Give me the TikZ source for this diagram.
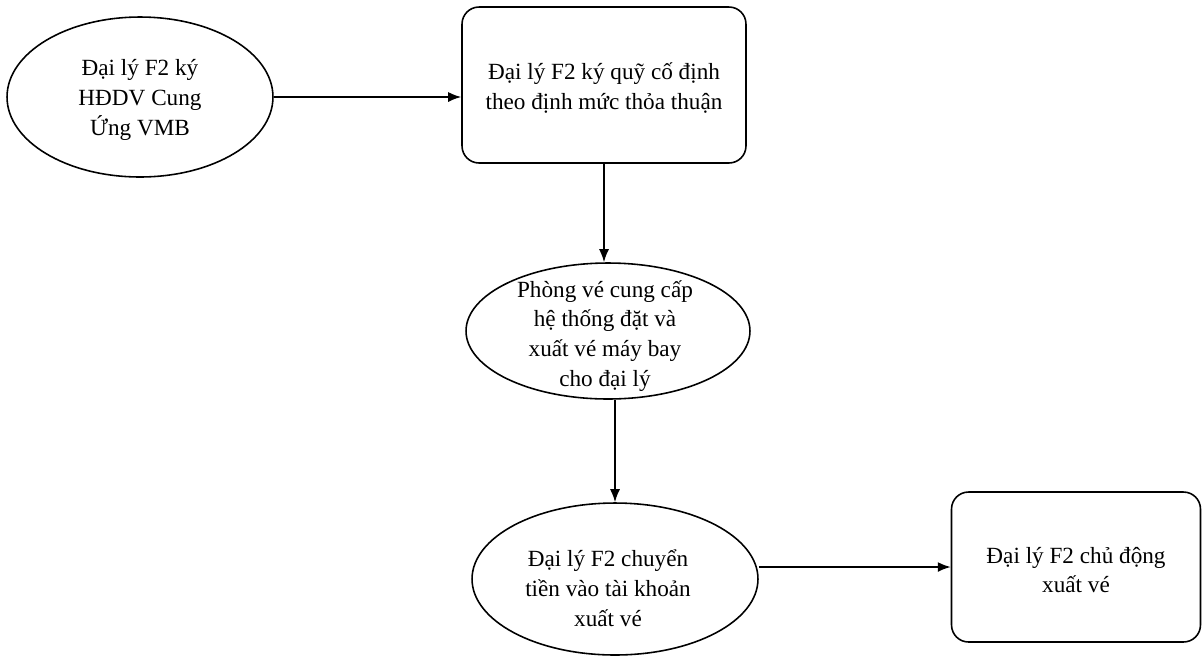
\documentclass[tikz,border=0pt]{standalone}
\usepackage{fontspec}
\setmainfont{Liberation Serif}
\usetikzlibrary{shapes.geometric,arrows.meta}
\begin{document}
\begin{tikzpicture}[x=0.02cm,y=-0.02cm,
  line width=0.9pt,
  oval/.style={draw, ellipse, inner sep=0pt},
  rbox/.style={draw, rectangle, rounded corners=0.34cm, inner sep=0pt},
  txt/.style={align=center, inner sep=0pt, font=\fontsize{13.2}{17}\selectfont},
  arr/.style={-{Latex[length=2.6mm,width=2mm]}}]
  \useasboundingbox (0,0) rectangle (1203,657);

  % shapes
  \node[oval, minimum width=5.32cm, minimum height=3.2cm] (e1) at (140,97) {};
  \node[rbox, minimum width=5.68cm, minimum height=3.12cm] (b1) at (604,85) {};
  \node[oval, minimum width=5.68cm, minimum height=2.72cm] (e2) at (608,331) {};
  \node[oval, minimum width=5.72cm, minimum height=3.04cm] (e3) at (615,579) {};
  \node[rbox, minimum width=4.98cm, minimum height=3.0cm] (b2) at (1076,567) {};

  % labels
  \node[txt] (t1) at (140,100) {Đại lý F2 ký\\HĐDV Cung\\Ứng VMB};
  \node[txt] (t2) at (604,88) {Đại lý F2 ký quỹ cố định\\theo định mức thỏa thuận};
  \node[txt] (t3) at (605,336) {Phòng vé cung cấp\\hệ thống đặt và\\xuất vé máy bay\\cho đại lý};
  \node[txt] (t4) at (608,588) {Đại lý F2 chuyển\\tiền vào tài khoản\\xuất vé};
  \node[txt] (t5) at (1076,570) {Đại lý F2 chủ động\\xuất vé};

  % connectors
  \draw[arr] (e1.east) -- (e1.east -| b1.west);
  \draw[arr] (b1.south) -- (b1.south |- e2.north);
  \draw[arr] (e3.north |- e2.south) -- (e3.north);
  \draw[arr] (b2.west -| e3.east) -- (b2.west);
\end{tikzpicture}
\end{document}
